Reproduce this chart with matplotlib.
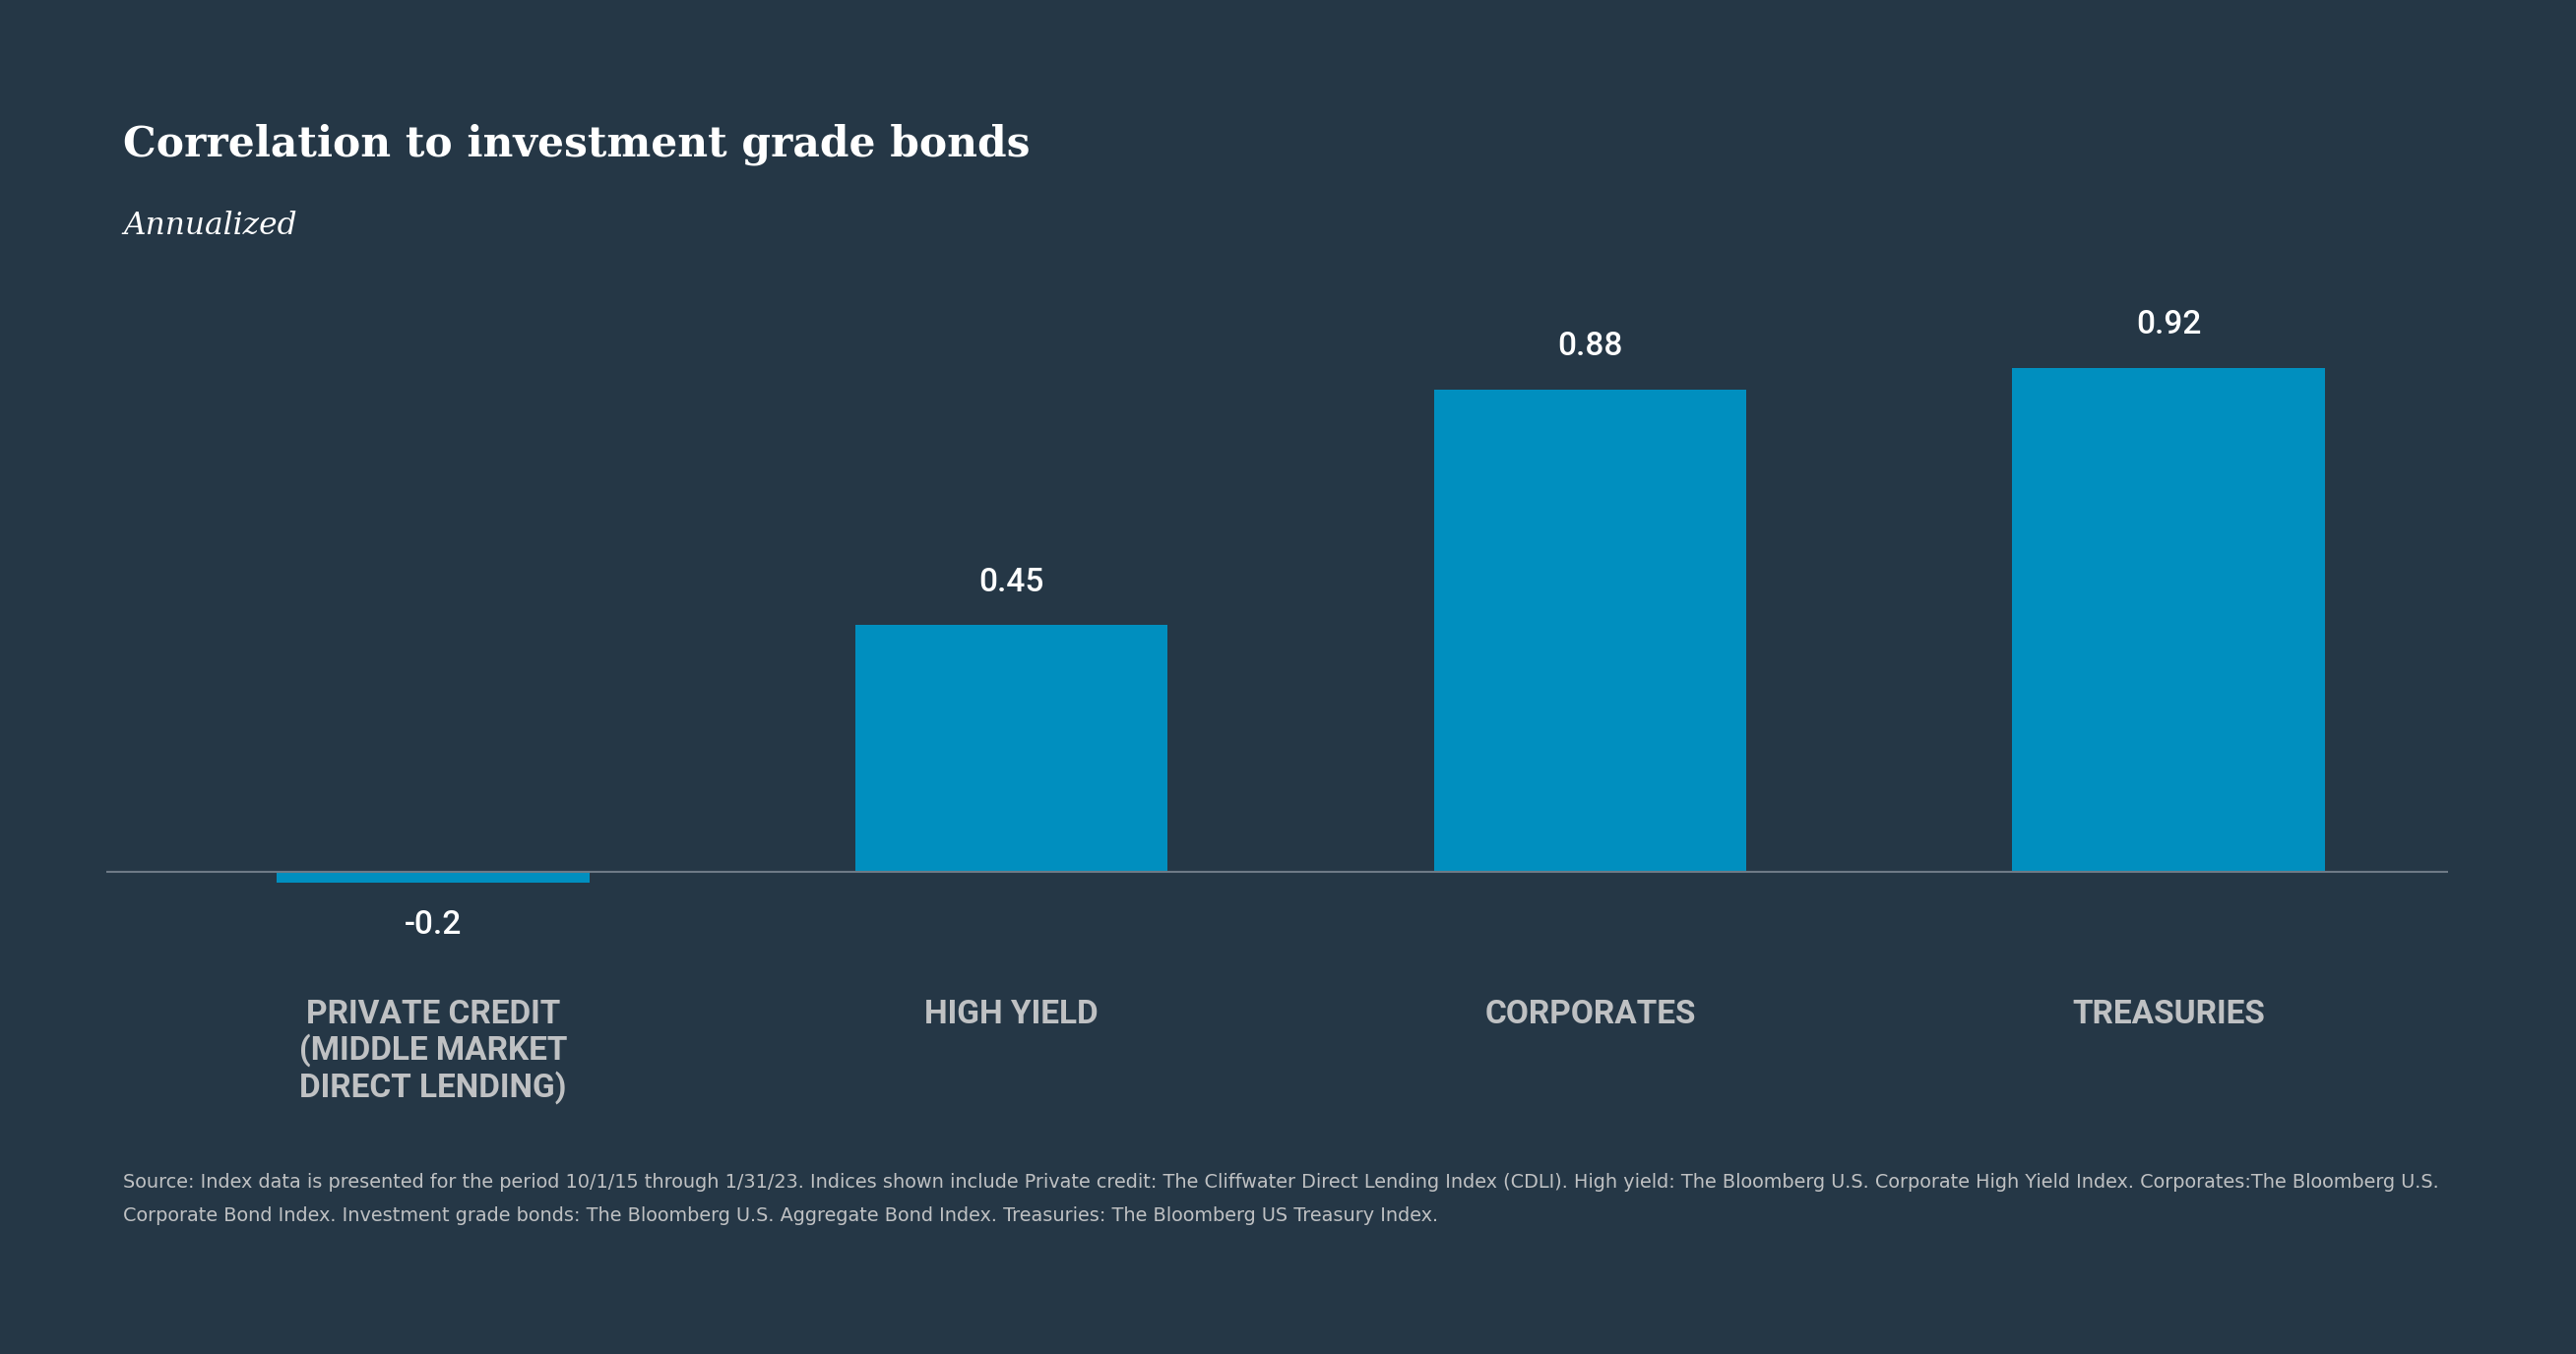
import matplotlib
matplotlib.use("Agg")
import matplotlib.pyplot as plt

# Data
categories = ["PRIVATE CREDIT\n(MIDDLE MARKET\nDIRECT LENDING)", "HIGH YIELD", "CORPORATES", "TREASURIES"]
values = [-0.02, 0.45, 0.88, 0.92]
value_labels = ["-0.2", "0.45", "0.88", "0.92"]

title = "Correlation to investment grade bonds"
subtitle = "Annualized"
footnote = ("Source: Index data is presented for the period 10/1/15 through 1/31/23. Indices shown include Private credit: "
            "The Cliffwater Direct Lending Index (CDLI). High yield: The Bloomberg U.S. Corporate High Yield Index. "
            "Corporates:The Bloomberg U.S.\nCorporate Bond Index. Investment grade bonds: The Bloomberg U.S. Aggregate "
            "Bond Index. Treasuries: The Bloomberg US Treasury Index.")

# Colors
BG = "#253746"
BAR = "#008fbf"
LINE = "#6e7a86"
GREY = "#bfc1c3"

W, H = 2617, 1376
fig = plt.figure(figsize=(W / 100, H / 100), dpi=100, facecolor=BG)

# axes placed in pixel terms
left_px, right_px, top_px, bot_px = 108, 2487, 300, 1000
ax = fig.add_axes([left_px / W, 1 - bot_px / H, (right_px - left_px) / W, (bot_px - top_px) / H])
ax.set_facecolor(BG)

x = list(range(len(categories)))
ax.bar(x, values, width=0.54, color=BAR, zorder=2)
ax.axhline(0, color=LINE, lw=1.5, zorder=3)

ax.set_xlim(-0.565, 3.483)
ax.set_ylim(-0.2047, 1.052)

# value labels above / below bars
for xi, v, lab in zip(x, values, value_labels):
    up = v >= 0
    ax.annotate(lab, (xi, v), xytext=(0, 20 if up else -19), textcoords="offset points",
                ha="center", va="bottom" if up else "top", color="white", fontsize=24,
                fontfamily="Roboto", fontweight="medium")

ax.set_xticks(x)
ax.set_xticklabels(categories, color=GREY, fontsize=24, fontfamily="Roboto",
                   fontweight="bold", linespacing=1.15)
ax.tick_params(axis="x", length=0, pad=10.5)
ax.set_yticks([])
for s in ax.spines.values():
    s.set_visible(False)

fig.text(125 / W, 1 - 147 / H, title, fontsize=30.5, fontfamily="DejaVu Serif",
         fontweight="bold", color="white", va="center", ha="left")
fig.text(125 / W, 1 - 230 / H, subtitle, fontsize=22.5, fontfamily="DejaVu Serif",
         style="italic", color="white", va="center", ha="left")
fig.text(125 / W, 1 - 1192 / H, footnote, fontsize=13.9, fontfamily="DejaVu Sans",
         color=GREY, va="top", ha="left", linespacing=2.0)

fig.savefig("out.png", dpi=100, facecolor=BG)
